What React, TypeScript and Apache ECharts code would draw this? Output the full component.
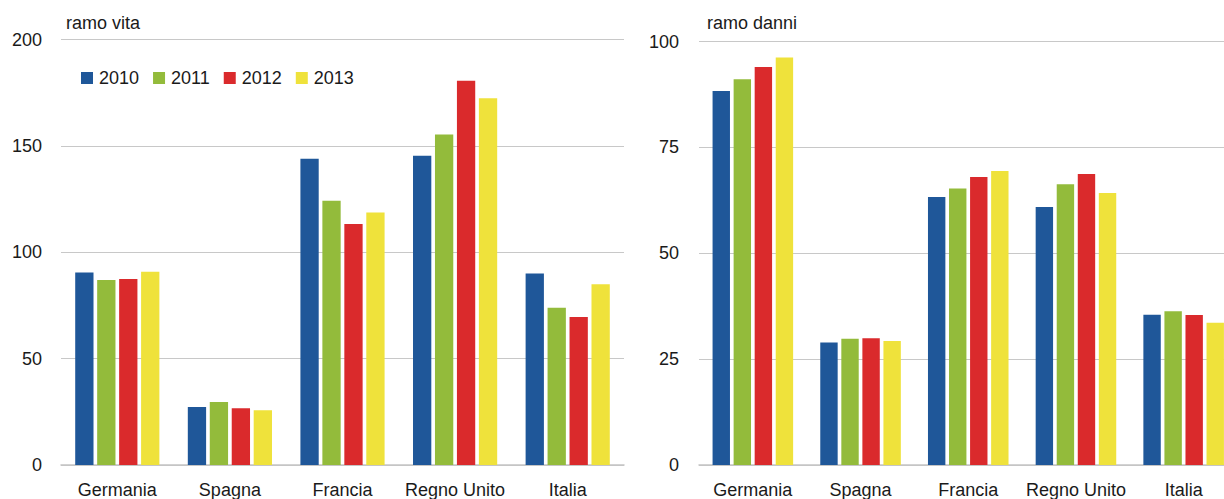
import React, { useEffect, useRef } from "react";
import * as echarts from "echarts";

const categories = ["Germania", "Spagna", "Francia", "Regno Unito", "Italia"];
const years = ["2010", "2011", "2012", "2013"];
const colors = ["#1f5799", "#93bb3b", "#da2a2c", "#efe23b"];

// ramo vita
const vita2010 = [90.5, 27.3, 144, 145.3, 90.0];
const vita2011 = [86.9, 29.6, 124.2, 155.4, 73.9];
const vita2012 = [87.4, 26.7, 113.3, 180.6, 69.6];
const vita2013 = [90.8, 25.7, 118.7, 172.4, 85.0];

// ramo danni
const danni2010 = [88.3, 28.9, 63.3, 60.9, 35.5];
const danni2011 = [91.1, 29.8, 65.3, 66.3, 36.3];
const danni2012 = [94.0, 29.9, 68.0, 68.7, 35.4];
const danni2013 = [96.2, 29.3, 69.4, 64.2, 33.6];

const vitaTicks = { min: 0, max: 200, interval: 50 };
const danniTicks = { min: 0, max: 100, interval: 25 };

const FONT = "'Liberation Sans', Arial, sans-serif";

export default function App() {
  const ref = useRef<HTMLDivElement>(null);
  useEffect(() => {
    if (!ref.current) return;
    const chart = echarts.init(ref.current, null, { renderer: "svg" });
    const vita = [vita2010, vita2011, vita2012, vita2013];
    const danni = [danni2010, danni2011, danni2012, danni2013];
    const mkX = (gi: number) => ({
      type: "category",
      gridIndex: gi,
      data: categories,
      axisTick: { show: false },
      axisLine: { show: true, lineStyle: { color: "#c4c4c4", width: 1.5 } },
      axisLabel: { color: "#1a1a1a", fontSize: 18, fontFamily: FONT, margin: 16, interval: 0 },
    });
    const mkY = (gi: number, t: any, margin: number) => ({
      type: "value",
      gridIndex: gi,
      min: t.min,
      max: t.max,
      interval: t.interval,
      axisLine: { show: false },
      axisTick: { show: false },
      splitLine: { lineStyle: { color: "#c8c8c8", width: 1 } },
      axisLabel: { color: "#1a1a1a", fontSize: 18, fontFamily: FONT, margin },
    });
    const series: any[] = [];
    years.forEach((y, i) => {
      series.push({
        name: y,
        type: "bar",
        xAxisIndex: 0,
        yAxisIndex: 0,
        data: vita[i],
        barWidth: 18.3,
        barGap: "20%",
        itemStyle: { color: colors[i] },
      });
    });
    years.forEach((y, i) => {
      series.push({
        name: y,
        type: "bar",
        xAxisIndex: 1,
        yAxisIndex: 1,
        data: danni[i],
        barWidth: 17.4,
        barGap: "21%",
        itemStyle: { color: colors[i] },
      });
    });
    chart.setOption({
      animation: false,
      backgroundColor: "#ffffff",
      textStyle: { fontFamily: FONT },
      grid: [
        { left: 61, top: 39.5, width: 563, height: 425.5 },
        { left: 699, top: 41.5, width: 538.5, height: 423.5 },
      ],
      legend: {
        left: 76,
        top: 64,
        itemWidth: 12,
        itemHeight: 12,
        itemGap: 14,
        icon: "rect",
        data: years,
        textStyle: { color: "#1a1a1a", fontSize: 18, fontFamily: FONT, padding: [0, 0, 0, 1] },
      },
      xAxis: [mkX(0), mkX(1)],
      yAxis: [mkY(0, vitaTicks, 19), mkY(1, danniTicks, 20)],
      graphic: [
        { type: "text", left: 66, top: 14, style: { text: "ramo vita", fill: "#1a1a1a", fontSize: 18, fontFamily: FONT } },
        { type: "text", left: 707, top: 14, style: { text: "ramo danni", fill: "#1a1a1a", fontSize: 18, fontFamily: FONT } },
      ],
      series,
    });
    return () => chart.dispose();
  }, []);
  return (
    <div style={{ position: "fixed", left: 0, top: 0, width: 1224, height: 499, overflow: "hidden", background: "#fff" }}>
      <div ref={ref} style={{ width: 1240, height: 499 }} />
    </div>
  );
}
